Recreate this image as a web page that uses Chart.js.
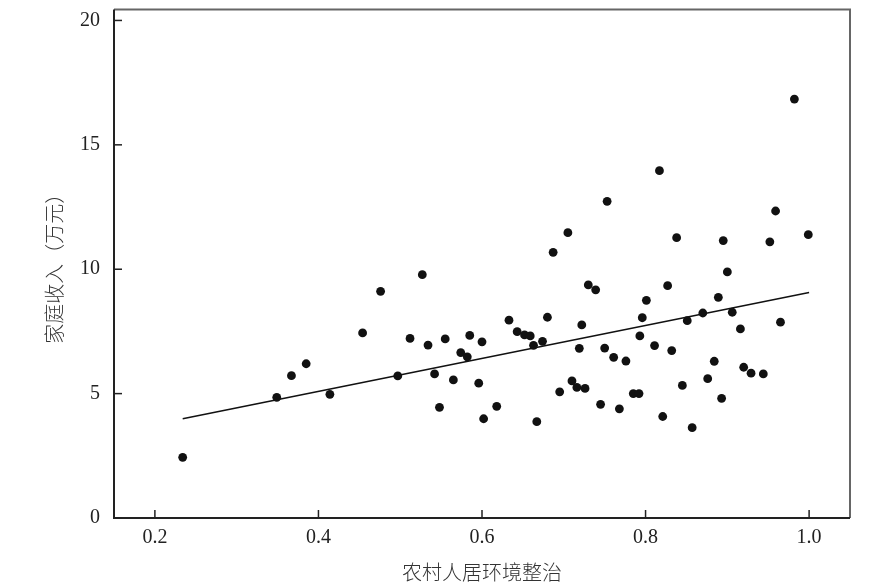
<!DOCTYPE html>
<html>
<head>
<meta charset="utf-8">
<script src="https://cdn.jsdelivr.net/npm/chart.js@4.4.0/dist/chart.umd.min.js"></script>
<style>
  html, body { margin: 0; padding: 0; background: #fff; }
  #wrap { width: 886px; height: 585px; position: relative; }
</style>
</head>
<body>
<div id="wrap"><canvas id="grafico"></canvas></div>
<script>
// ==========================================
// DATOS
// ==========================================

// 农村人居环境整治 (eje X)
const entorno = [
    0.234, 0.349, 0.367, 0.385, 0.414, 0.454, 0.476, 0.497, 0.512, 0.527,
    0.534, 0.542, 0.548, 0.555, 0.565, 0.574, 0.582, 0.585, 0.596, 0.600,
    0.602, 0.618, 0.633, 0.643, 0.652, 0.659, 0.663, 0.667, 0.674, 0.680,
    0.687, 0.695, 0.705, 0.710, 0.716, 0.719, 0.722, 0.726, 0.730, 0.739,
    0.745, 0.750, 0.753, 0.761, 0.768, 0.776, 0.785, 0.792, 0.793, 0.796,
    0.801, 0.811, 0.817, 0.821, 0.827, 0.832, 0.838, 0.845, 0.851, 0.857,
    0.870, 0.876, 0.884, 0.889, 0.893, 0.895, 0.900, 0.906, 0.916, 0.920,
    0.929, 0.944, 0.952, 0.959, 0.965, 0.982, 0.999
];

// 家庭收入（万元） (eje Y)
const ingreso = [
    2.44, 4.85, 5.72, 6.20, 4.97, 7.44, 9.11, 5.71, 7.22, 9.78,
    6.95, 5.79, 4.45, 7.20, 5.55, 6.65, 6.48, 7.34, 5.42, 7.08,
    3.99, 4.49, 7.95, 7.49, 7.36, 7.32, 6.94, 3.87, 7.10, 8.07,
    10.68, 5.07, 11.47, 5.51, 5.25, 6.82, 7.76, 5.21, 9.37, 9.17,
    4.57, 6.83, 12.73, 6.46, 4.39, 6.31, 5.00, 5.00, 7.32, 8.05,
    8.75, 6.93, 13.96, 4.08, 9.34, 6.73, 11.27, 5.33, 7.93, 3.63,
    8.24, 5.60, 6.30, 8.87, 4.81, 11.15, 9.89, 8.27, 7.60, 6.06,
    5.82, 5.79, 11.10, 12.34, 7.87, 16.84, 11.39
];

// Recta de ajuste (extremos)
const ajusteX = [0.234, 1.0];
const ajusteY = [3.99, 9.06];

// Marcas de los ejes
const ticksX = [0.2, 0.4, 0.6, 0.8, 1.0];
const ticksY = [0, 5, 10, 15, 20];

const tituloX = "农村人居环境整治";
const tituloY = "家庭收入（万元）";

// ==========================================
// PLUGIN: marco y marcas hacia dentro
// ==========================================

const marcoPlugin = {
    id: 'marco',
    afterDraw(chart) {
        const { ctx, chartArea: a, scales } = chart;
        ctx.save();
        ctx.lineCap = 'butt';
        // arriba y derecha (más claro)
        ctx.strokeStyle = '#666';
        ctx.lineWidth = 2;
        ctx.beginPath();
        ctx.moveTo(a.left, a.top);
        ctx.lineTo(a.right, a.top);
        ctx.lineTo(a.right, a.bottom);
        ctx.stroke();
        // izquierda y abajo
        ctx.strokeStyle = '#222';
        ctx.beginPath();
        ctx.moveTo(a.left, a.top);
        ctx.lineTo(a.left, a.bottom);
        ctx.lineTo(a.right, a.bottom);
        ctx.stroke();
        // marcas interiores
        ctx.lineWidth = 1.5;
        ticksX.forEach(v => {
            const px = scales.x.getPixelForValue(v);
            ctx.beginPath();
            ctx.moveTo(px, a.bottom);
            ctx.lineTo(px, a.bottom - 8);
            ctx.stroke();
        });
        ticksY.forEach(v => {
            const py = scales.y.getPixelForValue(v);
            ctx.beginPath();
            ctx.moveTo(a.left, py);
            ctx.lineTo(a.left + 8, py);
            ctx.stroke();
        });
        ctx.restore();
    }
};

// ==========================================
// GRÁFICO
// ==========================================

const fuenteTicks = { family: '"Liberation Serif", "DejaVu Serif", serif', size: 20 };
const fuenteTitulo = { family: '"Noto Sans CJK SC", sans-serif', size: 20, weight: 300, lineHeight: 1.2 };

new Chart(document.getElementById('grafico'), {
    type: 'scatter',
    data: {
        datasets: [{
            label: 'datos',
            data: entorno.map((x, i) => ({ x: x, y: ingreso[i] })),
            backgroundColor: '#111',
            borderColor: '#111',
            pointRadius: 4.4,
            pointHoverRadius: 4.4,
            borderWidth: 0
        }, {
            label: 'ajuste',
            type: 'line',
            data: ajusteX.map((x, i) => ({ x: x, y: ajusteY[i] })),
            borderColor: '#111',
            borderWidth: 1.5,
            pointRadius: 0,
            fill: false,
            tension: 0
        }]
    },
    options: {
        responsive: true,
        maintainAspectRatio: false,
        animation: false,
        layout: { padding: { left: 0, top: 9.5, right: 36, bottom: 0 } },
        plugins: {
            legend: { display: false },
            tooltip: { enabled: false }
        },
        scales: {
            x: {
                type: 'linear',
                min: 0.15,
                max: 1.05,
                grid: { display: false, drawTicks: false },
                border: { display: false },
                afterBuildTicks: s => { s.ticks = ticksX.map(v => ({ value: v })); },
                afterFit: s => {
                    s.height = 67;
                    s.paddingLeft = 0;
                    s.paddingRight = 0;
                },
                ticks: {
                    color: '#222',
                    font: fuenteTicks,
                    padding: 8,
                    maxRotation: 0,
                    callback: v => Number(v).toFixed(1)
                },
                title: {
                    display: true,
                    text: tituloX,
                    color: '#333',
                    font: fuenteTitulo,
                    padding: { top: 0, bottom: 1 }
                }
            },
            y: {
                type: 'linear',
                min: 0,
                max: 20.44,
                grid: { display: false, drawTicks: false },
                border: { display: false },
                afterBuildTicks: s => { s.ticks = ticksY.map(v => ({ value: v })); },
                afterFit: s => {
                    s.width = 114;
                    s.paddingTop = 0;
                    s.paddingBottom = 0;
                },
                ticks: {
                    color: '#222',
                    font: fuenteTicks,
                    padding: 14,
                    callback: v => String(v)
                },
                title: {
                    display: true,
                    text: tituloY,
                    color: '#333',
                    font: fuenteTitulo,
                    padding: { top: 42, bottom: 0 }
                }
            }
        }
    },
    plugins: [marcoPlugin]
});
</script>
</body>
</html>
